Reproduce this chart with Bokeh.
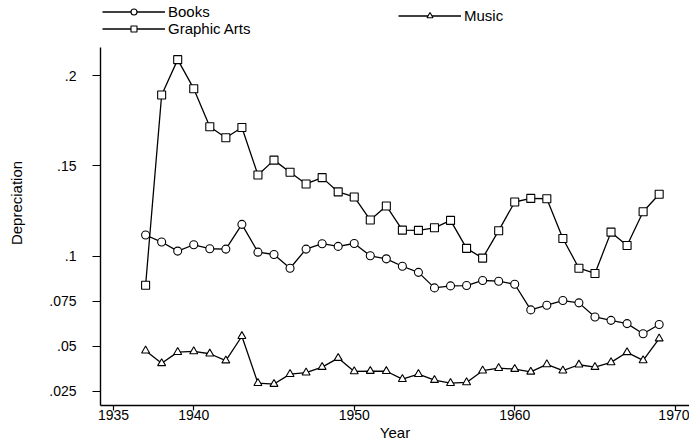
from bokeh.plotting import figure
from bokeh.models import Range1d, FixedTicker, Legend, LegendItem
from bokeh.embed import file_html
from bokeh.resources import INLINE

years = [1937, 1938, 1939, 1940, 1941, 1942, 1943, 1944, 1945, 1946, 1947,
         1948, 1949, 1950, 1951, 1952, 1953, 1954, 1955, 1956, 1957, 1958,
         1959, 1960, 1961, 1962, 1963, 1964, 1965, 1966, 1967, 1968, 1969]

books = [0.1117, 0.1078, 0.1028, 0.1063, 0.1041, 0.1039, 0.1176, 0.1022,
         0.1009, 0.0933, 0.1039, 0.1069, 0.1054, 0.1070, 0.1002, 0.0985,
         0.0944, 0.0910, 0.0824, 0.0835, 0.0837, 0.0865, 0.0861, 0.0844,
         0.0702, 0.0728, 0.0754, 0.0741, 0.0663, 0.0644, 0.0626, 0.0570,
         0.0621]

graphic_arts = [0.0839, 0.1893, 0.2089, 0.1928, 0.1717, 0.1656, 0.1713,
                0.1450, 0.1532, 0.1465, 0.1400, 0.1435, 0.1356, 0.1328,
                0.1200, 0.1278, 0.1144, 0.1143, 0.1157, 0.1198, 0.1043,
                0.0989, 0.1141, 0.1300, 0.1320, 0.1318, 0.1098, 0.0933,
                0.0904, 0.1133, 0.1059, 0.1246, 0.1343]

music = [0.0476, 0.0406, 0.0468, 0.0472, 0.0459, 0.0421, 0.0556, 0.0296,
         0.0291, 0.0346, 0.0354, 0.0385, 0.0435, 0.0361, 0.0363, 0.0362,
         0.0318, 0.0346, 0.0313, 0.0296, 0.0300, 0.0365, 0.0379, 0.0374,
         0.0359, 0.0400, 0.0365, 0.0398, 0.0385, 0.0411, 0.0467, 0.0422,
         0.0543]

x_ticks = [1935, 1940, 1950, 1960, 1970]
y_ticks = [0.025, 0.05, 0.075, 0.1, 0.15, 0.2]
y_tick_labels = [".025", ".05", ".075", ".1", ".15", ".2"]

FONT = "Liberation Sans"
FS_TICK = "14px"
FS_TEXT = "15px"

Y_LO, Y_AXIS_TOP, Y_HI = 0.01722, 0.21556, 0.24167

p = figure(width=689, height=445, output_backend="svg", toolbar_location=None,
           x_range=Range1d(1934.19, 1970.89), y_range=Range1d(Y_LO, Y_HI),
           min_border_left=100, min_border_right=0, min_border_top=0,
           min_border_bottom=40, background_fill_color="white",
           border_fill_color="white")
p.outline_line_color = None
p.xgrid.visible = False
p.ygrid.visible = False

lw = 1.3
l_b = p.line(years, books, line_color="black", line_width=lw)
s_b = p.scatter(years, books, marker="circle", size=8, fill_color="white",
                line_color="black", line_width=1.1)
l_g = p.line(years, graphic_arts, line_color="black", line_width=lw)
s_g = p.scatter(years, graphic_arts, marker="square", size=8, fill_color="white",
                line_color="black", line_width=1.1)
l_m = p.line(years, music, line_color="black", line_width=lw)
s_m = p.scatter(years, music, marker="triangle", size=8, fill_color="white",
                line_color="black", line_width=1.1)

# axes
xa = p.xaxis[0]
xa.ticker = FixedTicker(ticks=x_ticks, minor_ticks=[])
xa.axis_label = "Year"
xa.major_tick_out = 5
xa.major_tick_in = 0
xa.major_label_standoff = -1
xa.axis_label_standoff = 1

ya = p.yaxis[0]
ya.ticker = FixedTicker(ticks=y_ticks, minor_ticks=[])
ya.major_label_overrides = {t: s for t, s in zip(y_ticks, y_tick_labels)}
ya.axis_label = "Depreciation"
ya.bounds = (Y_LO, Y_AXIS_TOP)
ya.major_tick_out = 8
ya.major_tick_in = 0
ya.major_label_standoff = 16
ya.axis_label_standoff = 21

for ax in (xa, ya):
    ax.axis_line_color = "black"
    ax.axis_line_width = 1.4
    ax.major_tick_line_color = "black"
    ax.major_tick_line_width = 1.2
    ax.minor_tick_line_color = None
    ax.major_label_text_font = FONT
    ax.major_label_text_font_size = FS_TICK
    ax.major_label_text_color = "black"
    ax.axis_label_text_font = FONT
    ax.axis_label_text_font_size = FS_TEXT
    ax.axis_label_text_font_style = "normal"
    ax.axis_label_text_color = "black"

def make_legend(items, loc):
    lg = Legend(items=items, location=loc, glyph_width=63, glyph_height=15,
                label_standoff=3, spacing=0, padding=0, margin=0,
                border_line_color=None, background_fill_alpha=0,
                label_text_font=FONT, label_text_font_size=FS_TEXT,
                label_text_color="black", label_height=15)
    return lg

leg1 = make_legend([LegendItem(label="Books", renderers=[l_b, s_b]),
                    LegendItem(label="Graphic Arts", renderers=[l_g, s_g])],
                   (2, 368))
leg2 = make_legend([LegendItem(label="Music", renderers=[l_m, s_m])], (298, 381))
p.add_layout(leg1)
p.add_layout(leg2)

open("out.html", "w").write(file_html(p, INLINE))
